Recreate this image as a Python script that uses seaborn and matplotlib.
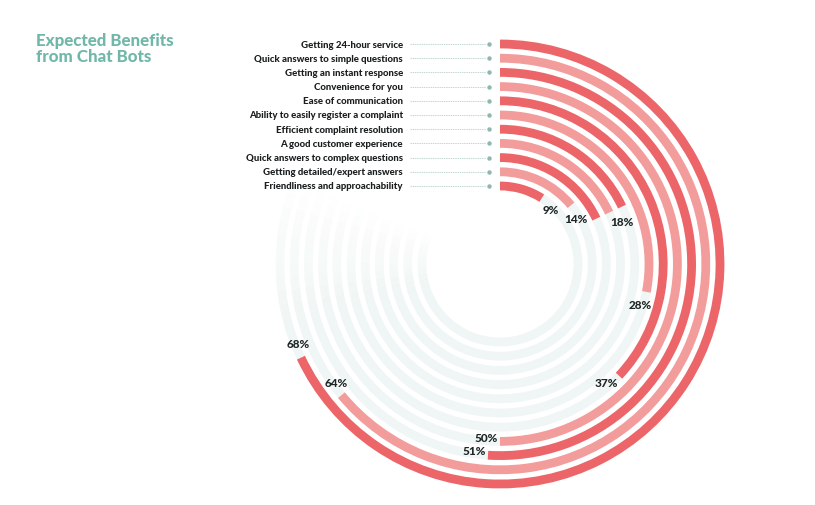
import numpy as np
import pandas as pd
import matplotlib
matplotlib.use("Agg")
import matplotlib.pyplot as plt
import seaborn as sns
from matplotlib.lines import Line2D

# ---------------- data ----------------
categories = [
    "Getting 24-hour service",
    "Quick answers to simple questions",
    "Getting an instant response",
    "Convenience for you",
    "Ease of communication",
    "Ability to easily register a complaint",
    "Efficient complaint resolution",
    "A good customer experience",
    "Quick answers to complex questions",
    "Getting detailed/expert answers",
    "Friendliness and approachability",
]
values = [68, 64, 51, 50, 37, 28, 18, 18, 18, 14, 9]
value_labels = ["68%", "64%", "51%", "50%", "37%", "28%", "18%", "", "", "14%", "9%"]
title_text = "Expected Benefits\nfrom Chat Bots"

# ---------------- style ----------------
sns.set_theme(style="white")
plt.rcParams["font.family"] = ["Lato", "DejaVu Sans"]

W, H = 815, 506
fig = plt.figure(figsize=(W / 100, H / 100), dpi=100)
fig.patch.set_facecolor("white")

cx, cy = 500, 265          # centre of the rings (px)
step = 14.2                # ring spacing (px)
r_outer = 220              # outer ring radius (px)
n = len(categories)
origin = r_outer / step    # category index located at the centre
r_edge = -0.6
R = (origin - r_edge) * step
ax = fig.add_axes([(cx - R) / W, (H - cy - R) / H, 2 * R / W, 2 * R / H],
                  projection="polar")
ax.set_theta_zero_location("N")
ax.set_theta_direction(-1)

dark, light = "#ec6569", "#f29c9c"
track = "#f0f6f5"
palette = [dark if i % 2 == 0 else light for i in range(n)]
thick = 0.62

df = pd.DataFrame({
    "category": categories,
    "theta": np.array(values) / 100 * 2 * np.pi,
})

# background tracks (remaining part of each ring, fading out top-left)
fade_start, fade_end = np.deg2rad(256), np.deg2rad(292)
for i, th in enumerate(df["theta"]):
    ax.barh(i, fade_start - th, left=th, height=thick, color=track,
            linewidth=0, zorder=0)
    edges = np.linspace(fade_start, fade_end, 11)
    for k in range(10):
        ax.barh(i, edges[k + 1] - edges[k], left=edges[k], height=thick,
                color=track, alpha=1 - (k + 1) / 11, linewidth=0, zorder=0)

# the bars themselves
sns.barplot(data=df, x="theta", y="category", hue="category",
            palette=palette, saturation=1, legend=False, errorbar=None,
            width=thick, linewidth=0, ax=ax, zorder=2)

ax.set_xlim(0, 2 * np.pi)
ax.set_ylim(origin, r_edge)
ax.set_axis_off()

# value labels just past each bar end
for i, (th, lab) in enumerate(zip(df["theta"], value_labels)):
    if not lab:
        continue
    rpx = (origin - i) * step
    off = 0.4 if i == 6 else 0.25
    ax.text(th + 14 / rpx, i + off, lab, ha="center", va="center",
            fontsize=8.5, fontweight="black", color="#1e2626", zorder=5)

# category labels with dotted leaders
inv = fig.transFigure.inverted()
for i, cat in enumerate(categories):
    xd, yd = ax.transData.transform((0, i))
    _, yf = inv.transform((xd, yd))
    fig.text(403 / W, yf, cat, ha="right", va="center", fontsize=6.9,
             fontweight="black", color="#1b1f1f")
    fig.add_artist(Line2D([410 / W, 486 / W], [yf, yf], transform=fig.transFigure,
                          color="#c3d8d4", lw=0.7, ls=(0, (1.5, 0.8))))
    fig.add_artist(Line2D([489 / W], [yf], transform=fig.transFigure,
                          marker="o", ms=2.2, color="#8fb8b0", lw=0))

fig.text(36 / W, 1 - 33 / H, title_text, ha="left", va="top", fontsize=12.2,
         fontweight="black", color="#70b7aa", linespacing=1.0)

fig.savefig("out.png", dpi=100, facecolor="white")
